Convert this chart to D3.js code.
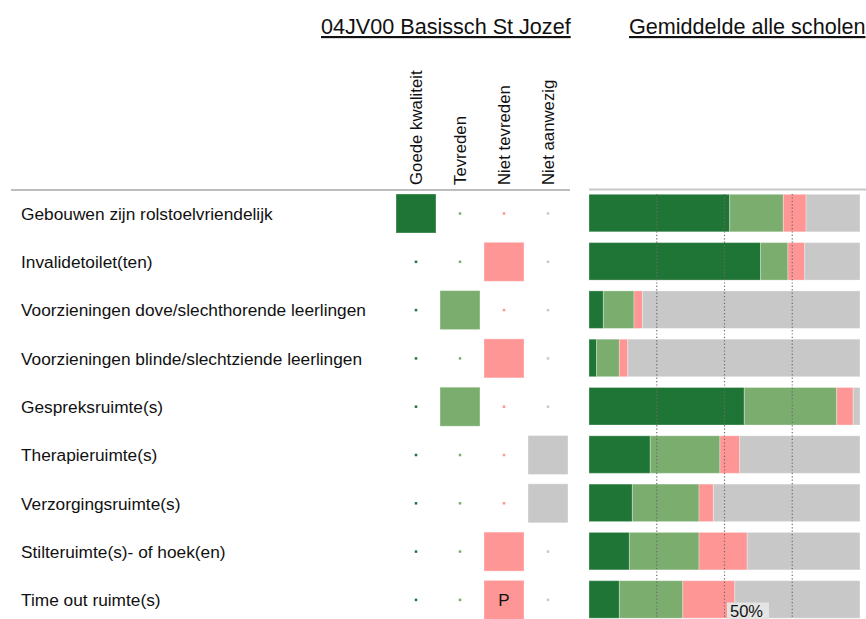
<!DOCTYPE html>
<html>
<head>
<meta charset="utf-8">
<script src="https://cdn.jsdelivr.net/npm/d3@7"></script>
<style>
  html, body { margin: 0; padding: 0; background: #fff; }
  svg text { font-family: "Liberation Sans", Arial, sans-serif; fill: #111; }
</style>
</head>
<body>
<svg id="chart" width="866" height="619"></svg>
<script>
// ---- data ----
const categories = [
  "Gebouwen zijn rolstoelvriendelijk",
  "Invalidetoilet(ten)",
  "Voorzieningen dove/slechthorende leerlingen",
  "Voorzieningen blinde/slechtziende leerlingen",
  "Gespreksruimte(s)",
  "Therapieruimte(s)",
  "Verzorgingsruimte(s)",
  "Stilteruimte(s)- of hoek(en)",
  "Time out ruimte(s)"
];
const answerLabels = ["Goede kwaliteit", "Tevreden", "Niet tevreden", "Niet aanwezig"];
// school answer: index into answerLabels
const schoolAnswer = [0, 2, 1, 2, 1, 3, 3, 2, 2];
const schoolMarks = ["", "", "", "", "", "", "", "", "P"];
// average of all schools (percent)
const avgGoed         = [51.9, 63.3,  5.3,  2.8, 57.3, 22.6, 16.0, 14.9, 11.2];
const avgTevreden     = [19.8, 10.1, 11.3,  8.4, 34.1, 25.7, 24.6, 25.7, 23.4];
const avgNietTevreden = [ 8.4,  6.2,  3.1,  3.1,  6.1,  7.3,  5.3, 17.8, 19.2];
const avgNietAanwezig = [19.9, 20.4, 80.3, 85.7,  2.5, 44.4, 54.1, 41.6, 46.2];
const gridTicks = [25, 50, 75];
const titleSchool = "04JV00 Basissch St Jozef";
const titleAvg = "Gemiddelde alle scholen";
const hoverLabel = "50%";

const colors = ["#1f7535", "#7aad6e", "#ff9696", "#c8c8c8"];

const svg = d3.select("#chart");

// scales
const y = d3.scalePoint().domain(categories).range([213.5, 599.9]);
const colX = d3.scalePoint().domain(answerLabels).range([416, 548]);
const x = d3.scaleLinear().domain([0, 100]).range([589, 860]);

// titles
svg.append("text").attr("x", 321).attr("y", 34).attr("font-size", 21.6)
  .style("text-decoration", "underline").text(titleSchool);
svg.append("text").attr("x", 629).attr("y", 34).attr("font-size", 21.6)
  .style("text-decoration", "underline").text(titleAvg);

// column headers
svg.selectAll("text.colhdr").data(answerLabels).join("text")
  .attr("class", "colhdr")
  .attr("font-size", 16.8)
  .attr("transform", d => `translate(${colX(d) + 6},185) rotate(-90)`)
  .text(d => d);

// separator lines
svg.append("line").attr("x1", 11).attr("x2", 570).attr("y1", 190).attr("y2", 190)
  .attr("stroke", "#bdbdbd").attr("stroke-width", 2);
svg.append("line").attr("x1", 589).attr("x2", 866).attr("y1", 189.5).attr("y2", 189.5)
  .attr("stroke", "#c8c8c8").attr("stroke-width", 2);

// row labels
svg.selectAll("text.rowlbl").data(categories).join("text")
  .attr("class", "rowlbl")
  .attr("x", 21).attr("y", d => y(d)).attr("dy", "0.36em")
  .attr("font-size", 17.3)
  .text(d => d);

// school matrix
const cells = [];
categories.forEach((c, i) => {
  answerLabels.forEach((a, j) => {
    cells.push({ c, a, j, big: schoolAnswer[i] === j, mark: schoolAnswer[i] === j ? schoolMarks[i] : "" });
  });
});
const sq = 40;
svg.selectAll("rect.cell").data(cells).join("rect")
  .attr("class", "cell")
  .attr("x", d => colX(d.a) - (d.big ? sq / 2 : 1.25))
  .attr("y", d => y(d.c) - (d.big ? 19.5 : 1.25))
  .attr("width", d => d.big ? sq : 2.5)
  .attr("height", d => d.big ? 39 : 2.5)
  .attr("fill", d => colors[d.j])
  .attr("stroke", d => d.big ? "#ffffff" : "none")
  .attr("stroke-opacity", 0.35)
  .attr("stroke-width", 1);
svg.selectAll("text.mark").data(cells.filter(d => d.mark)).join("text")
  .attr("class", "mark")
  .attr("x", d => colX(d.a)).attr("y", d => y(d.c)).attr("dy", "0.36em")
  .attr("text-anchor", "middle").attr("font-size", 17)
  .text(d => d.mark);

// average stacked bars
const series = [avgGoed, avgTevreden, avgNietTevreden, avgNietAanwezig];
const segs = [];
categories.forEach((c, i) => {
  let acc = 0;
  series.forEach((s, k) => {
    segs.push({ c, k, x0: acc, x1: acc + s[i] });
    acc += s[i];
  });
});
const barH = 37.5;
svg.selectAll("rect.seg").data(segs).join("rect")
  .attr("class", "seg")
  .attr("x", d => x(d.x0))
  .attr("y", d => y(d.c) - 19.2)
  .attr("width", d => Math.max(0, Math.min(x(100), x(d.x1)) - x(d.x0)))
  .attr("height", barH)
  .attr("fill", d => colors[d.k])
  .attr("stroke", "#ffffff").attr("stroke-opacity", 0.3).attr("stroke-width", 1);

// dotted gridlines
svg.selectAll("line.grid").data(gridTicks).join("line")
  .attr("class", "grid")
  .attr("x1", d => x(d)).attr("x2", d => x(d))
  .attr("y1", 194).attr("y2", 619)
  .attr("stroke", "#6b6b6b").attr("stroke-width", 1.2)
  .attr("stroke-dasharray", "1.2,2.2");

// hover label
const lblG = svg.append("g").attr("transform", `translate(${x(50) + 2.5},602.5)`);
lblG.append("rect").attr("width", 42).attr("height", 17).attr("fill", "#e4e4e4");
lblG.append("text").attr("x", 3).attr("y", 14.5).attr("font-size", 16.5).text(hoverLabel);
</script>
</body>
</html>
